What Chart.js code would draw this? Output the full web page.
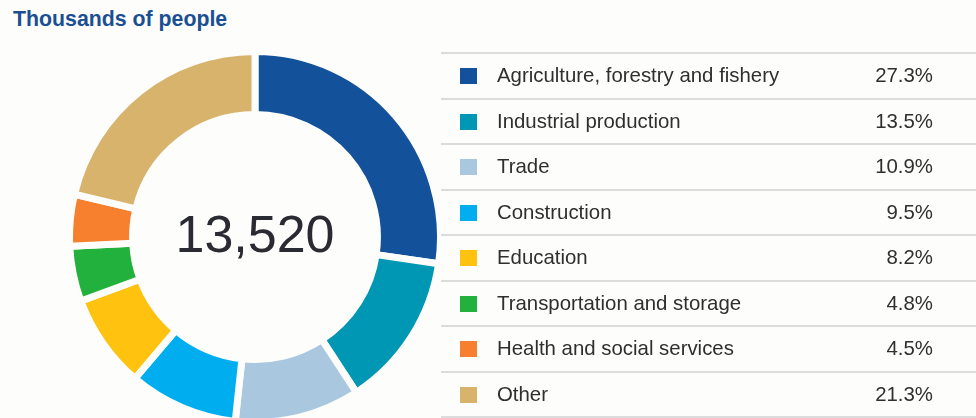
<!DOCTYPE html>
<html>
<head>
<meta charset="utf-8">
<script src="https://cdn.jsdelivr.net/npm/chart.js@4.4.1/dist/chart.umd.min.js"></script>
<style>
  html, body { margin:0; padding:0; }
  body { width:976px; height:418px; overflow:hidden; background:#fdfdfb; font-family:"Liberation Sans", Arial, sans-serif; position:relative; }
  #title { position:absolute; left:13px; top:7px; font-size:21.3px; font-weight:bold; color:#1a4f94; }
  #donutBox { position:absolute; left:66px; top:48px; width:378px; height:378px; }
  #legend { position:absolute; left:441px; top:52px; width:535px; }
  .row { height:43.5px; border-top:2.5px solid #dcdcdc; position:relative; font-size:20.4px; color:#2f2f2f; }
  .row:last-child { border-bottom:2.5px solid #dcdcdc; }
  .sw { position:absolute; left:19px; top:14px; width:17px; height:16px; }
  .lbl { position:absolute; left:56px; top:10px; white-space:nowrap; }
  .pct { position:absolute; right:43px; top:10px; }
</style>
</head>
<body>
<div id="title">Thousands of people</div>
<div id="donutBox"><canvas id="donut"></canvas></div>
<div id="legend"></div>
<script>
  // sectors, shares (%), colours
  const categories = [
    'Agriculture, forestry and fishery',
    'Industrial production',
    'Trade',
    'Construction',
    'Education',
    'Transportation and storage',
    'Health and social services',
    'Other'
  ];
  const shares = [27.3, 13.5, 10.9, 9.5, 8.2, 4.8, 4.5, 21.3];
  const colors = ['#13529b', '#0097b5', '#a9c7df', '#00aeef', '#ffc20e', '#22b13c', '#f7802f', '#d7b36c'];
  const totalLabel = '13,520';

  // legend table on the right
  const legend = document.getElementById('legend');
  categories.forEach((c, i) => {
    const row = document.createElement('div');
    row.className = 'row';
    row.innerHTML = `<span class="sw" style="background:${colors[i]}"></span>` +
      `<span class="lbl">${c}</span><span class="pct">${shares[i].toFixed(1)}%</span>`;
    legend.appendChild(row);
  });

  // total in the hole
  const centerText = {
    id: 'centerText',
    afterDraw(chart) {
      const { ctx } = chart;
      const arc = chart.getDatasetMeta(0).data[0];
      ctx.save();
      ctx.font = '52px "Liberation Sans", Arial, sans-serif';
      ctx.fillStyle = '#2a2a33';
      ctx.textAlign = 'center';
      ctx.textBaseline = 'middle';
      ctx.fillText(totalLabel, arc.x, arc.y + 1);
      ctx.restore();
    }
  };

  // white border gives the gaps between sectors
  new Chart(document.getElementById('donut'), {
    type: 'doughnut',
    data: {
      labels: categories,
      datasets: [{
        data: shares,
        backgroundColor: colors,
        borderColor: '#fdfdfb',
        borderWidth: 7,
        borderJoinStyle: 'miter'
      }]
    },
    options: {
      responsive: true,
      maintainAspectRatio: false,
      animation: false,
      cutout: '66%',
      layout: { padding: 0 },
      plugins: { legend: { display: false }, tooltip: { enabled: false } }
    },
    plugins: [centerText]
  });
</script>
</body>
</html>
